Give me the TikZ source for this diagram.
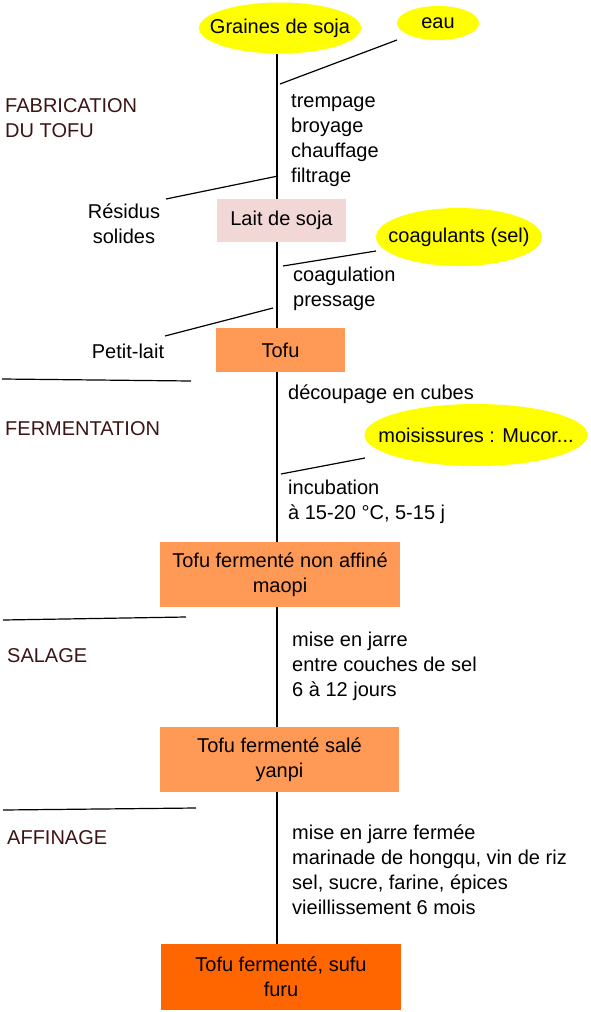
\documentclass[tikz,border=0pt]{standalone}
\usepackage{fontspec}
\setmainfont{Liberation Sans}
\usetikzlibrary{shapes.geometric,calc}
\definecolor{labelc}{HTML}{3C1414}
\definecolor{pinkbox}{HTML}{F2D7D7}
\definecolor{orangebox}{HTML}{FF9955}
\definecolor{darkorange}{HTML}{FF6600}
\definecolor{yel}{HTML}{FFFF00}
\begin{document}
\begin{tikzpicture}[x=1pt,y=-1pt,
  every node/.style={font=\fontsize{20}{25}\selectfont, inner sep=0pt},
  ingredient/.style={ellipse, fill=yel, draw=none},
  prodbox/.style={rectangle, draw=none, align=center},
  proctext/.style={anchor=base west, align=left},
  sectlabel/.style={anchor=base west, align=left, text=labelc},
  sidetext/.style={anchor=base, align=center},
  conn/.style={line width=1.2pt, black},
  sep/.style={line width=1.2pt, black}]
\useasboundingbox (0,0) rectangle (590,1012);
\coordinate (spine) at (277,0);

% nodes
\node[ingredient, minimum width=162, minimum height=51] (graines) at (280,28) {\makebox[0pt]{Graines de soja}};
\node[ingredient, minimum width=82, minimum height=34] (eau) at (438,23) {\makebox[0pt]{eau}};
\node[prodbox, fill=pinkbox, minimum width=129, minimum height=43] (lait) at (281.5,220.5) {Lait de soja};
\node[ingredient, minimum width=166, minimum height=58] (coag) at (459,237) {\makebox[0pt]{coagulants (sel)}};
\node[prodbox, fill=orangebox, minimum width=129, minimum height=44] (tofu) at (280.5,350) {Tofu};
\node[ingredient, minimum width=223, minimum height=62] (mois) at (476,435) {\makebox[0pt]{moisissures : Mucor...}};
\node[prodbox, fill=orangebox, minimum width=240, minimum height=65] (maopi) at (280,574.5) {Tofu ferment\'e non affin\'e\\maopi};
\node[prodbox, fill=orangebox, minimum width=239, minimum height=65] (yanpi) at (279.5,759.5) {Tofu ferment\'e sal\'e\\yanpi};
\node[prodbox, fill=darkorange, minimum width=240, minimum height=66] (furu) at (281,977) {Tofu ferment\'e, sufu\\furu};

% process texts (anchor = baseline of last line)
\node[proctext] (t1) at (291,182) {trempage\\broyage\\chauffage\\filtrage};
\node[proctext] (t2) at (293,306) {coagulation\\pressage};
\node[proctext] (t3) at (288,399) {d\'ecoupage en cubes};
\node[proctext] (t4) at (288,519) {incubation\\\`a 15-20 °C, 5-15 j};
\node[proctext] (t5) at (292,696) {mise en jarre\\entre couches de sel\\6 \`a 12 jours};
\node[proctext] (t6) at (292,914) {mise en jarre ferm\'ee\\marinade de hongqu, vin de riz\\sel, sucre, farine, \'epices\\vieillissement 6 mois};

% by-products
\node[sidetext] (residus) at (124,243) {R\'esidus\\solides};
\node[sidetext] (petitlait) at (128,358) {Petit-lait};

% section labels
\node[sectlabel] (s1) at (5,137) {FABRICATION\\DU TOFU};
\node[sectlabel] (s2) at (5,435) {FERMENTATION};
\node[sectlabel] (s3) at (7,662) {SALAGE};
\node[sectlabel] (s4) at (7,844) {AFFINAGE};

% main flow
\draw[conn] (graines.south -| spine) -- (lait.north -| spine);
\draw[conn] (lait.south -| spine) -- (tofu.north -| spine);
\draw[conn] (tofu.south -| spine) -- (maopi.north -| spine);
\draw[conn] (maopi.south -| spine) -- (yanpi.north -| spine);
\draw[conn] (yanpi.south -| spine) -- (furu.north -| spine);

% side connectors
\coordinate (eauin) at (280,84);
\draw[conn] ($(eau.center)+(-41,17)$) -- (eauin);
\coordinate (resout) at (278,176);
\coordinate (resfree) at (166,199);
\draw[conn] (resout) -- (resfree);
\coordinate (coagin) at (283,266);
\draw[conn] ($(coag.center)+(-83,14)$) -- (coagin);
\coordinate (plout) at (273,308);
\coordinate (plfree) at (165,336);
\draw[conn] (plout) -- (plfree);
\coordinate (moisin) at (281,474);
\draw[conn] ($(mois.center)+(-111,23)$) -- (moisin);

% section separators
\draw[sep] (2,379) -- (191,381);
\draw[sep] (3,620) -- (186,617);
\draw[sep] (3,810) -- (196,808);
\end{tikzpicture}
\end{document}
